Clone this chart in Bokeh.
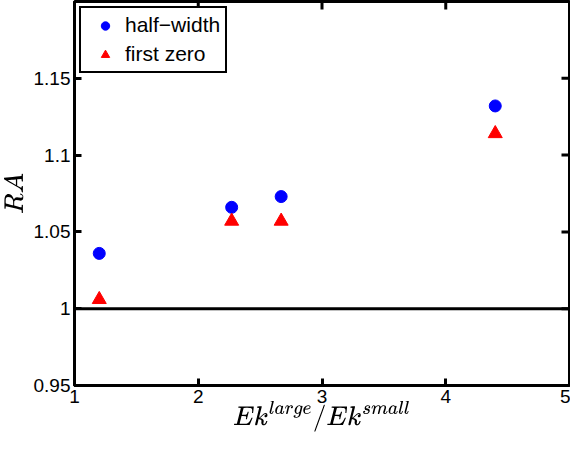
import math
from bokeh.plotting import figure
from bokeh.models import (FixedTicker, Span, Legend, LegendItem,
                          CustomJSTickFormatter, Range1d, TeX)
from bokeh.embed import file_html
from bokeh.resources import INLINE

# data
ratio = [1.2, 2.27, 2.67, 4.4]
half_width = [1.036, 1.066, 1.073, 1.132]
first_zero = [1.006, 1.057, 1.057, 1.114]
baseline = 1.0
x_ticks = [1, 2, 3, 4, 5]
y_ticks = [0.95, 1.0, 1.05, 1.1, 1.15]

FONT = "Liberation Sans"

p = figure(width=570, height=441, output_backend="svg", toolbar_location=None,
           x_range=Range1d(1, 5), y_range=Range1d(0.95, 1.2),
           min_border_left=70, min_border_right=1, min_border_top=1,
           min_border_bottom=56)
p.grid.visible = False
p.outline_line_color = "black"
p.outline_line_width = 3
p.outline_line_alpha = 1
p.background_fill_color = "white"

fmt = CustomJSTickFormatter(code="return String(Math.round(tick*100)/100);")

for ax in (p.xaxis[0], p.yaxis[0]):
    ax.axis_line_color = "black"
    ax.axis_line_width = 3
    ax.major_tick_in = 7
    ax.major_tick_out = 0
    ax.major_tick_line_width = 3
    ax.major_tick_line_color = "black"
    ax.minor_tick_line_color = None
    ax.major_label_text_font = FONT
    ax.major_label_text_font_size = "19px"
    ax.major_label_text_color = "black"
    ax.axis_label_text_color = "black"

p.xaxis.ticker = FixedTicker(ticks=x_ticks)
p.yaxis.ticker = FixedTicker(ticks=y_ticks)
p.yaxis.formatter = fmt
p.xaxis.major_label_standoff = 4
p.yaxis.major_label_standoff = 4

p.xaxis.axis_label = TeX(text=r"Ek^{large}/Ek^{small}")
p.yaxis.axis_label = TeX(text=r"RA")
p.xaxis.axis_label_text_font_size = "22px"
p.yaxis.axis_label_text_font_size = "22px"
p.xaxis.axis_label_standoff = -5
p.yaxis.axis_label_standoff = 2

# inward ticks on the top and right edges of the box (MATLAB style)
n_x, n_y = len(x_ticks), len(y_ticks)
p.ray(x=x_ticks, y=[p.y_range.end] * n_x, length=8, length_units="screen",
      angle=-math.pi / 2, line_color="black", line_width=3)
p.ray(x=[p.x_range.end] * n_y, y=y_ticks, length=8, length_units="screen",
      angle=math.pi, line_color="black", line_width=3)

p.add_layout(Span(location=baseline, dimension="width", line_color="black", line_width=3))

r1 = p.scatter(ratio, half_width, marker="circle", size=12, color="#0000ff")
r2 = p.scatter(ratio, first_zero, marker="triangle", size=14, color="#ff0000")

leg = Legend(items=[LegendItem(label="half\u2212width", renderers=[r1]),
                    LegendItem(label="first zero", renderers=[r2])],
             location="top_left")
leg.border_line_color = "black"
leg.border_line_width = 2.5
leg.border_line_alpha = 1
leg.label_text_font = FONT
leg.label_text_font_size = "21px"
leg.label_text_color = "black"
leg.label_height = 21
leg.glyph_height = 21
leg.glyph_width = 38
leg.padding = 5
leg.spacing = 5
leg.margin = 5
leg.label_standoff = 1
leg.background_fill_alpha = 1
p.add_layout(leg)

open("out.html", "w").write(file_html(p, INLINE))
